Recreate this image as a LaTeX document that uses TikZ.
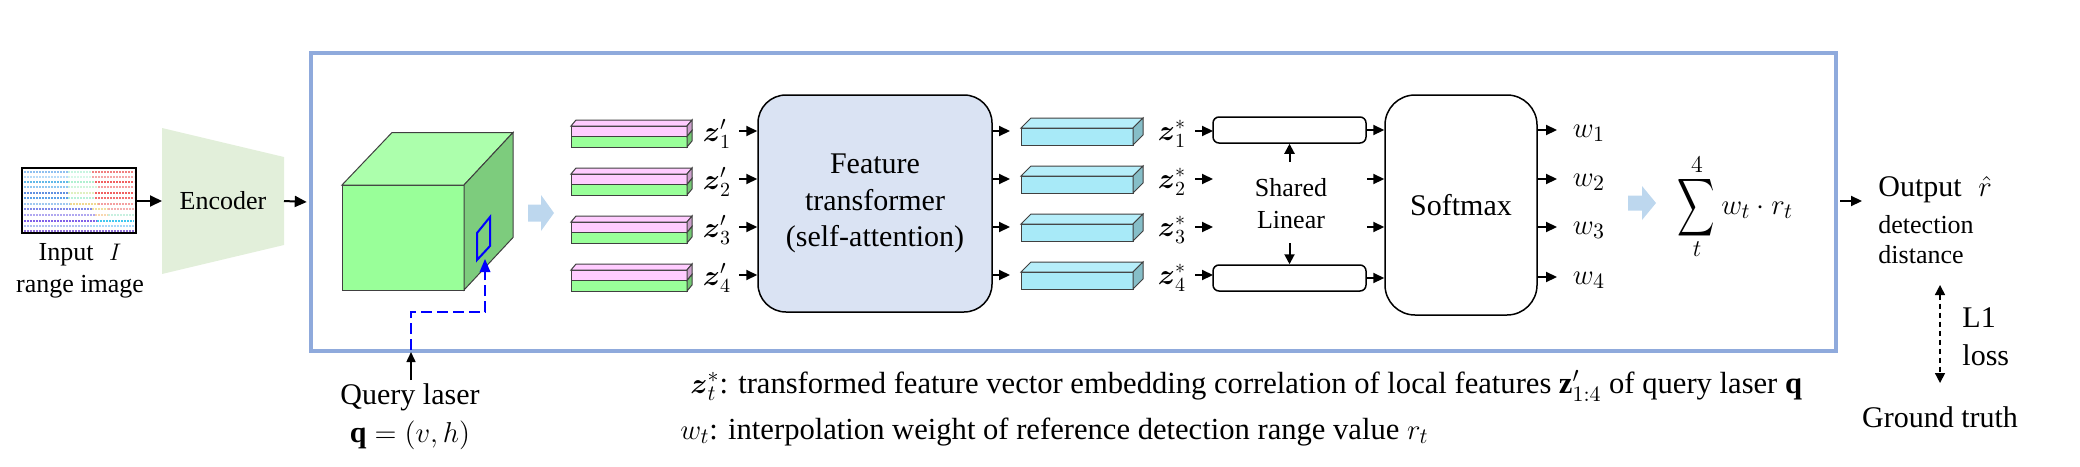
\documentclass[tikz,border=0pt]{standalone}
\usepackage{fontspec}
\setmainfont{Liberation Serif}
\usepackage{amsmath}
\usetikzlibrary{arrows.meta,calc}
\definecolor{frameblue}{RGB}{143,170,220}
\definecolor{encgreen}{RGB}{226,239,218}
\definecolor{cubefront}{RGB}{153,255,153}
\definecolor{cubetop}{RGB}{172,255,172}
\definecolor{cubeside}{RGB}{125,204,125}
\definecolor{ftblue}{RGB}{218,227,243}
\definecolor{pinkf}{RGB}{255,204,255}
\definecolor{pinks}{RGB}{204,160,204}
\definecolor{greenf}{RGB}{153,255,153}
\definecolor{greens}{RGB}{115,200,115}
\definecolor{cyanf}{RGB}{168,234,248}
\definecolor{cyans}{RGB}{134,190,200}
\definecolor{cyant}{RGB}{182,238,250}
\definecolor{fatblue}{RGB}{189,215,238}
\definecolor{qblue}{RGB}{0,0,255}
\begin{document}
\begin{tikzpicture}[x=0.5pt,y=-0.5pt,
  arr/.style={-{Triangle[length=6pt,width=5.5pt]}, line width=1pt, black},
  sarr/.style={-{Triangle[length=5.5pt,width=5pt]}, line width=1pt, black},
  txt/.style={font=\fontsize{15}{18}\selectfont, inner sep=0pt},
  stxt/.style={font=\fontsize{13}{16}\selectfont, inner sep=0pt},
  ctxt/.style={font=\fontsize{15.3}{18}\selectfont, inner sep=0pt},
  mtxt/.style={font=\fontsize{14.5}{16}\selectfont, inner sep=0pt},
  edge/.style={draw=black!75, line width=0.5pt},
  scan/.style={line width=0.75pt, dash pattern=on 1.2pt off 0.3pt},
  fatarrow/.style={fill=fatblue, draw=none},
  qdash/.style={draw=qblue, line width=1pt, dash pattern=on 5.5pt off 2.5pt}]
\useasboundingbox (0,0) rectangle (2080,466);

% ---------- input range image ----------
\node[draw, line width=1pt, minimum width=57pt, minimum height=32.5pt, inner sep=0pt] (img) at (79,200.5) {};
\foreach \yy/\ca/\cb/\cc/\ba/\bb in {
  172/8EC0F0/C8F5E0/F08080/68/92, 177/B8DCF8/D8F8E8/F4A8A8/68/92,
  182/60B8E8/B0F0D0/F06060/68/95, 187/90C8F0/D0F4DC/F4A0A0/68/98,
  193/6090E0/E0F0C0/F06060/68/95, 198/5AA0E8/B8F0D8/F07070/68/95,
  204/A0C8F0/F0D890/F4A0A0/70/98, 209/8088E8/F0E0A0/F4B0B0/92/108,
  215/B0A8F0/F8D8B0/C8F0E0/95/108, 221/8060E8/40C8F0/40C8F0/97/97,
  226/B0C0F0/B0C0F0/A8D8F8/90/90, 231/9070D8/9070D8/9070D8/90/90}{
  \definecolor{rowa}{HTML}{\ca}\definecolor{rowb}{HTML}{\cb}\definecolor{rowc}{HTML}{\cc}
  \draw[rowa, scan] (24,\yy) -- (\ba,\yy);
  \draw[rowb, scan] (\ba,\yy) -- (\bb,\yy);
  \draw[rowc, scan] (\bb,\yy) -- (134,\yy);
}
\node[stxt] (inlab) at (80,255) {Input\hspace{0.6em}$I$};
\node[stxt] (inlab2) at (80,287) {range image};

% ---------- encoder ----------
\fill[encgreen] (162,128) -- (284,157) -- (284,245) -- (162,274) -- cycle;
\coordinate (encL) at (162,201);
\coordinate (encR) at (284,201);
\node[stxt] (enc) at (223,201) {Encoder};
\draw[arr] (img.east |- encL) -- (encL);

% ---------- frame ----------
\node[draw=frameblue, line width=2.25pt, minimum width=762.5pt, minimum height=149pt, inner sep=0pt] (frame) at (1073.5,202) {};
\draw[arr] (encR) -- ($(frame.west)+(-2,0)$);

% ---------- cube ----------
\fill[cubefront] (342,185) rectangle (464,290);
\draw[edge] (342,185) rectangle (464,290);
\filldraw[fill=cubetop, edge] (342,185) -- (392,132.5) -- (513,132.5) -- (464,185) -- cycle;
\filldraw[fill=cubeside, edge] (464,185) -- (513,132.5) -- (513,237.5) -- (464,290) -- cycle;
\draw[draw=qblue, line width=1pt] (477,233) -- (490,217) -- (490,246) -- (477,260) -- cycle;
\coordinate (patchIn) at (485,259);
\coordinate (qturn) at (485,312);
\coordinate (qfoot) at (411,352);
\draw[qdash] (411,350) |- (qturn) -- ($(patchIn)+(0,12)$);
\fill[qblue] (patchIn) -- (479.5,272) -- (490.5,272) -- cycle;

% query laser
\node[txt] (ql) at (410,397) {Query laser};
\node[txt] (qv) at (410,435) {$\mathbf{q}=(v,h)$};
\draw[-{Triangle[length=5pt,width=4.5pt]}, line width=0.75pt] (qfoot |- 0,380) -- (qfoot);

% fat arrow 1
\path[fatarrow] (528,204.5) -- (541,204.5) -- (541,195) -- (554,213) -- (541,231) -- (541,221.5) -- (528,221.5) -- cycle;

% ---------- feature transformer ----------
\node[draw, fill=ftblue, rounded corners=14pt, minimum width=117pt, minimum height=108.5pt, line width=0.75pt, align=center, inner sep=0pt, font=\fontsize{15}{18.25}\selectfont] (ft) at (875,203.5) {Feature\\transformer\\(self-attention)};

\foreach \y [count=\i] in {131,179,227,275}{
  % pink/green stack
  \filldraw[fill=pinkf, edge] (571,\y-5) rectangle (687,\y+5.5);
  \filldraw[fill=greenf, edge] (571,\y+5.5) rectangle (687,\y+16);
  \filldraw[fill=pinkf, edge] (571,\y-5) -- (576,\y-11) -- (692,\y-11) -- (687,\y-5) -- cycle;
  \filldraw[fill=pinks, edge] (687,\y-5) -- (692,\y-11) -- (692,\y-0.5) -- (687,\y+5.5) -- cycle;
  \filldraw[fill=greens, edge] (687,\y+5.5) -- (692,\y-0.5) -- (692,\y+10) -- (687,\y+16) -- cycle;
  \node[mtxt] (zp\i) at (717,\y+3) {$\boldsymbol{z}'_{\i}$};
  \draw[sarr] (739,\y) -- (ft.west |- 0,\y);
  % cyan bars
  \draw[sarr] (ft.east |- 0,\y) -- (1010,\y);
  \filldraw[fill=cyanf, edge] (1021,\y-3) rectangle (1133,\y+14);
  \filldraw[fill=cyant, edge] (1021,\y-3) -- (1031,\y-13) -- (1143,\y-13) -- (1133,\y-3) -- cycle;
  \filldraw[fill=cyans, edge] (1133,\y-3) -- (1143,\y-13) -- (1143,\y+4) -- (1133,\y+14) -- cycle;
  \node[mtxt] (zs\i) at (1172,\y+3) {$\boldsymbol{z}^{*}_{\i}$};
  \draw[sarr] (1195,\y) -- (1213,\y);
}

% ---------- shared linear ----------
\node[draw, rounded corners=3pt, minimum width=76.5pt, minimum height=13pt, line width=0.75pt, inner sep=0pt] (lin1) at (1289.5,130) {};
\node[draw, rounded corners=3pt, minimum width=76.5pt, minimum height=13pt, line width=0.75pt, inner sep=0pt] (lin4) at (1289.5,278) {};
\node[stxt, align=center] (sl) at (1291,204) {Shared\\Linear};
\draw[-{Triangle[length=5pt,width=5pt]}, line width=1pt] (lin1.south |- 0,162) -- (lin1.south);
\draw[-{Triangle[length=5pt,width=5pt]}, line width=1pt] (lin4.north |- 0,243) -- (lin4.north);

% ---------- softmax ----------
\node[draw, rounded corners=15pt, minimum width=76pt, minimum height=110pt, line width=0.75pt, txt] (sm) at (1461,205) {Softmax};
\draw[sarr] (lin1.east) -- (sm.west |- lin1.east);
\draw[sarr] (1367,179) -- (sm.west |- 0,179);
\draw[sarr] (1367,227) -- (sm.west |- 0,227);
\draw[sarr] (lin4.east) -- (sm.west |- lin4.east);

\foreach \y [count=\i] in {130,179,227,277}{
  \draw[sarr] (sm.east |- 0,\y) -- (1557,\y);
  \node[txt, font=\fontsize{15.5}{18}\selectfont] (w\i) at (1589,\y+3) {$w_{\i}$};
}

% fat arrow 2
\path[fatarrow] (1628,195.5) -- (1642,195.5) -- (1642,186) -- (1656,203) -- (1642,220) -- (1642,210.5) -- (1628,210.5) -- cycle;

% ---------- weighted sum ----------
\node[inner sep=0pt, xscale=0.9, yscale=1.4, font=\fontsize{15}{18}\selectfont] (sum) at (1696,207.5) {$\displaystyle\sum$};
\node[stxt] (sumtop) at (1697,165) {$4$};
\node[stxt] (sumbot) at (1697,249) {$t$};
\node[txt, anchor=west, font=\fontsize{15.5}{18}\selectfont] (wr) at (1721,210) {$w_t\cdot r_t$};

% ---------- output ----------
\draw[sarr] ($(frame.east |- 0,201)+(2,0)$) -- (1862,201);
\node[txt, anchor=west] (out) at (1878,190) {Output\hspace{0.55em}$\hat{r}$};
\node[stxt, anchor=west] (det) at (1878,225) {detection};
\node[stxt, anchor=west] (dist) at (1878,255) {distance};
\node[txt] (gt) at (1940,417) {Ground truth};
\draw[line width=0.75pt, dash pattern=on 2.5pt off 2pt, {Triangle[length=5pt,width=5pt]}-{Triangle[length=5pt,width=5pt]}] (gt.north |- 0,285) -- (gt.north |- 0,383);
\node[txt, anchor=west] (l1) at (1962,318) {L1};
\node[txt, anchor=west] (loss) at (1962,355) {loss};

% ---------- caption ----------
\node[ctxt, anchor=west] (cap1) at (690,386) {$\boldsymbol{z}^{*}_{t}$: transformed feature vector embedding correlation of local features $\mathbf{z}'_{1:4}$ of query laser $\mathbf{q}$};
\node[ctxt, anchor=west] (cap2) at (680,432) {$w_t$: interpolation weight of reference detection range value $r_t$};
\end{tikzpicture}
\end{document}
